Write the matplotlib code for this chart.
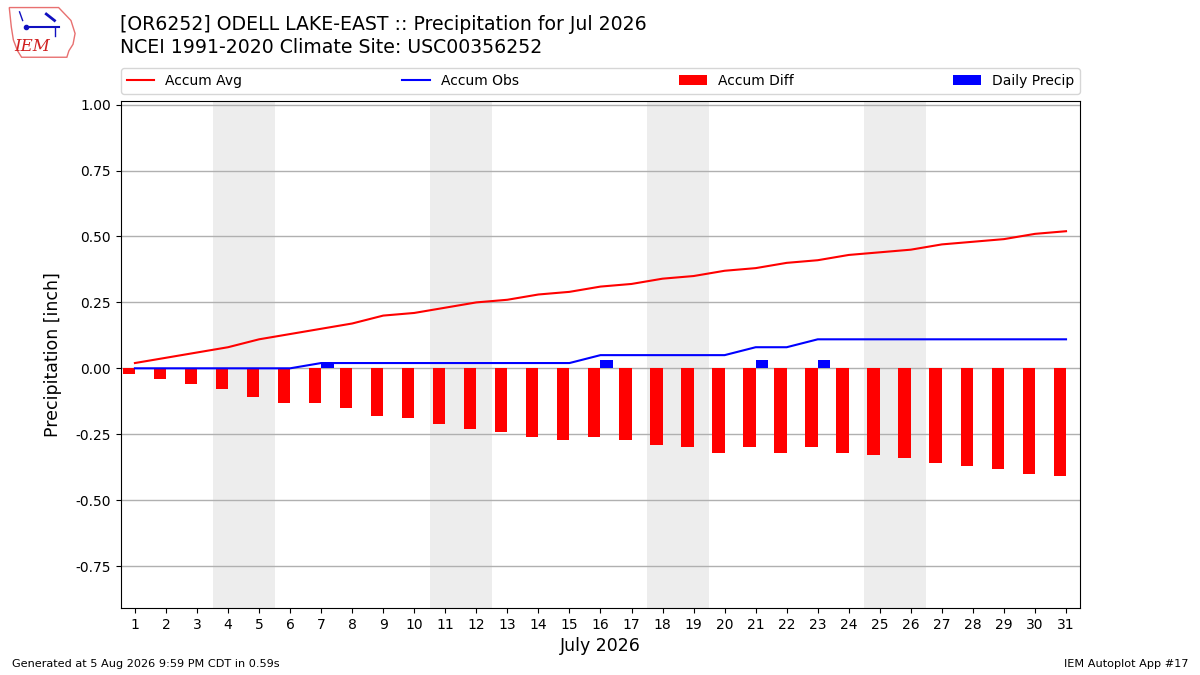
import matplotlib
matplotlib.use("Agg")
import matplotlib.pyplot as plt
from matplotlib.patches import Polygon

DAYS = list(range(1, 32))
ACCUM_AVG = [0.02, 0.04, 0.06, 0.08, 0.11, 0.13, 0.15, 0.17, 0.20, 0.21,
             0.23, 0.25, 0.26, 0.28, 0.29, 0.31, 0.32, 0.34, 0.35, 0.37,
             0.38, 0.40, 0.41, 0.43, 0.44, 0.45, 0.47, 0.48, 0.49, 0.51, 0.52]
ACCUM_OBS = [0.0, 0.0, 0.0, 0.0, 0.0, 0.0, 0.02, 0.02, 0.02, 0.02,
             0.02, 0.02, 0.02, 0.02, 0.02, 0.05, 0.05, 0.05, 0.05, 0.05,
             0.08, 0.08, 0.11, 0.11, 0.11, 0.11, 0.11, 0.11, 0.11, 0.11, 0.11]
ACCUM_DIFF = [-0.02, -0.04, -0.06, -0.08, -0.11, -0.13, -0.13, -0.15, -0.18, -0.19,
              -0.21, -0.23, -0.24, -0.26, -0.27, -0.26, -0.27, -0.29, -0.30, -0.32,
              -0.30, -0.32, -0.30, -0.32, -0.33, -0.34, -0.36, -0.37, -0.38, -0.40, -0.41]
DAILY_PRECIP = [0.0, 0.0, 0.0, 0.0, 0.0, 0.0, 0.02, 0.0, 0.0, 0.0,
                0.0, 0.0, 0.0, 0.0, 0.0, 0.03, 0.0, 0.0, 0.0, 0.0,
                0.03, 0.0, 0.03, 0.0, 0.0, 0.0, 0.0, 0.0, 0.0, 0.0, 0.0]
WEEKENDS = [4, 11, 18, 25]  # saturdays
YTICKS = [-0.75, -0.5, -0.25, 0, 0.25, 0.5, 0.75, 1.0]

fig = plt.figure(figsize=(12, 6.75), dpi=100)
ax = fig.add_axes([0.1008, 0.0993, 0.7992, 0.7515])

for sat in WEEKENDS:
    ax.axvspan(sat - 0.5, sat + 1.5, color="#ededed", zorder=0, lw=0)

l_avg, = ax.plot(DAYS, ACCUM_AVG, color="red", lw=1.5, label="Accum Avg", zorder=3)
l_obs, = ax.plot(DAYS, ACCUM_OBS, color="blue", lw=1.5, label="Accum Obs", zorder=3)
b_diff = ax.bar(DAYS, ACCUM_DIFF, width=-0.4, align="edge", color="red",
                label="Accum Diff", zorder=2)
b_pcp = ax.bar(DAYS, DAILY_PRECIP, width=0.4, align="edge", color="blue",
               label="Daily Precip", zorder=2)

ax.set_xlim(0.55, 31.45)
ax.set_ylim(-0.909, 1.015)
ax.set_xticks(DAYS)
ax.set_yticks(YTICKS)
ax.set_yticklabels([f"{v:.2f}" for v in YTICKS])
ax.grid(True, axis="y", color="#b0b0b0", lw=1, zorder=1)
ax.set_axisbelow(True)
ax.set_xlabel("July 2026", fontsize=12.5)
ax.set_ylabel("Precipitation [inch]", fontsize=12.5, labelpad=10)

ax.legend([l_avg, l_obs, b_diff, b_pcp], ["Accum Avg", "Accum Obs", "Accum Diff", "Daily Precip"],
          ncol=4, mode="expand", loc="lower left", bbox_to_anchor=(0, 1.014, 1, 0.05),
          borderaxespad=0, fontsize=10)

fig.text(0.1, 0.9644, "[OR6252] ODELL LAKE-EAST :: Precipitation for Jul 2026",
         fontsize=13.6, va="center")
fig.text(0.1, 0.930, "NCEI 1991-2020 Climate Site: USC00356252", fontsize=13.6, va="center")

fig.text(0.01, 0.012, "Generated at 5 Aug 2026 9:59 PM CDT in 0.59s", fontsize=8.1)
fig.text(0.99, 0.012, "IEM Autoplot App #17", fontsize=8.1, ha="right")

# rough stand-in for the IEM logo
logo = fig.add_axes([0.006, 0.912, 0.06, 0.08])
logo.set_xlim(0, 70)
logo.set_ylim(0, 50)
logo.axis("off")
outline = [(2, 48), (50, 48), (54, 44), (62, 36), (66, 24), (64, 14), (60, 8),
           (58, 2), (14, 2), (10, 8), (6, 18), (4, 30)]
logo.add_patch(Polygon(outline, closed=True, fill=False, edgecolor="#e87070", lw=1))
logo.text(24, 12, "IEM", color="#d02020", fontsize=12, style="italic",
          family="DejaVu Serif", ha="center", va="center")
logo.plot([18, 50], [30, 30], color="#1010c0", lw=1.5)
logo.plot([18], [30], marker="o", color="#1010c0", ms=3)
logo.plot([38, 46], [42, 36], color="#1010c0", lw=2)
logo.plot([12, 15], [44, 36], color="#1010c0", lw=1)
logo.plot([46, 46], [30, 22], color="#1010c0", lw=1)

fig.savefig("out.png", dpi=100)
